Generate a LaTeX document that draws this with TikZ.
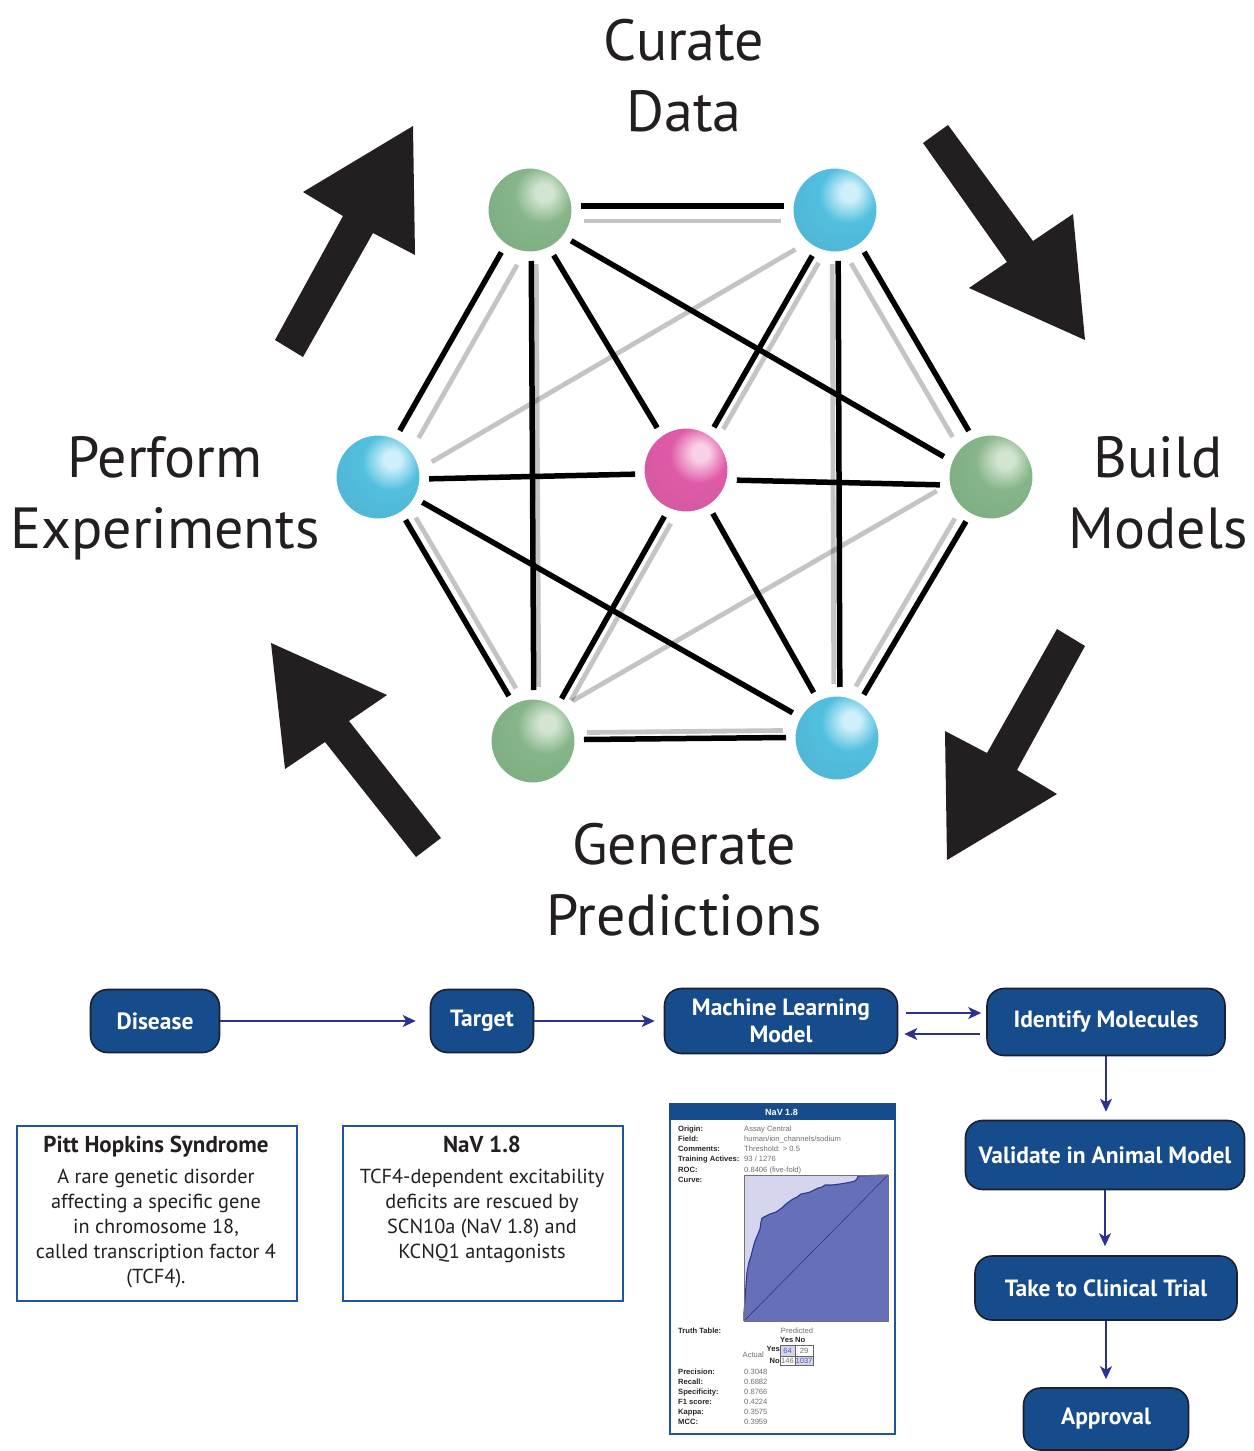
\documentclass[tikz,border=0pt]{standalone}
\usepackage{fontspec}
\setmainfont{PT Sans}
\newfontfamily\helv{Liberation Sans}
\usetikzlibrary{calc,arrows.meta}

% palette
\definecolor{inkblack}{HTML}{231F20}
\definecolor{flowblue}{HTML}{164B8C}
\definecolor{flowedge}{HTML}{1B1F2E}
\definecolor{indigo}{HTML}{2E3192}
\definecolor{boxblue}{HTML}{2155A3}
\definecolor{rocfill}{HTML}{6670B8}
\definecolor{rocbg}{HTML}{D5D6EE}
\definecolor{rocline}{HTML}{2A3896}
\definecolor{rocgray}{HTML}{6E6E6E}

\definecolor{ghi}{HTML}{D3E5D1}
\definecolor{gmid}{HTML}{86B589}
\definecolor{gdark}{HTML}{6A9470}
\definecolor{bhi}{HTML}{CFF0FA}
\definecolor{bmid}{HTML}{52BFDF}
\definecolor{bdark}{HTML}{4894B1}
\definecolor{phi}{HTML}{F9D0E6}
\definecolor{pmid}{HTML}{DF5AA7}
\definecolor{pdark}{HTML}{AD5689}

% glossy spheres, highlight up and to the right
\pgfdeclareradialshading{greenball}{\pgfpoint{9bp}{11bp}}{%
  color(0bp)=(ghi); color(5bp)=(ghi); color(17bp)=(gmid); color(34bp)=(gmid!80!gdark); color(60bp)=(gdark); color(100bp)=(gdark)}
\pgfdeclareradialshading{blueball}{\pgfpoint{9bp}{11bp}}{%
  color(0bp)=(bhi); color(5bp)=(bhi); color(17bp)=(bmid); color(34bp)=(bmid!80!bdark); color(60bp)=(bdark); color(100bp)=(bdark)}
\pgfdeclareradialshading{pinkball}{\pgfpoint{9bp}{11bp}}{%
  color(0bp)=(phi); color(5bp)=(phi); color(17bp)=(pmid); color(34bp)=(pmid!80!pdark); color(60bp)=(pdark); color(100bp)=(pdark)}

% a link between two spheres, shifted sideways by #4
\newcommand\hexlink[4][]{%
  \draw[#1] ($(#2)!#4!90:(#3)$) -- ($(#3)!#4!-90:(#2)$);}

\begin{document}
\begin{tikzpicture}[x=1pt,y=-1pt,
  sphere/.style={circle, minimum size=84pt, inner sep=0pt, draw=white, line width=1pt},
  darklink/.style={line width=5.5pt, black, shorten <=51pt, shorten >=51pt},
  palelink/.style={line width=4.8pt, black, opacity=0.23, shorten <=54pt, shorten >=54pt},
  bigarrow/.style={fill=inkblack},
  biglabel/.style={font=\fontsize{58}{71}\selectfont, align=center, anchor=base, inner sep=0pt, text=inkblack},
  flowbox/.style={rounded corners=17pt, fill=flowblue, draw=flowedge, line width=1.6pt, text=white,
    font=\bfseries\fontsize{23.5}{27}\selectfont, align=center, inner sep=0pt},
  flowarrow/.style={draw=indigo, line width=1.8pt, -{Stealth[length=13pt,width=12pt,inset=3.5pt]}},
  infobox/.style={draw=boxblue, line width=2.4pt, inner sep=0pt},
  infotitle/.style={font=\bfseries\fontsize{23}{25}\selectfont, anchor=base, inner sep=0pt, text=inkblack},
  infobody/.style={font=\fontsize{20.3}{25}\selectfont, align=center, anchor=base, inner sep=0pt, text=inkblack},
  roclabel/.style={font=\helv\bfseries\fontsize{7.6}{9}\selectfont, anchor=base west, inner sep=0pt, text=black!85},
  rocvalue/.style={font=\helv\fontsize{7.6}{9}\selectfont, anchor=base west, inner sep=0pt, text=rocgray},
]
\useasboundingbox (0,0) rectangle (1253,1451);
\fill[white] (0,0) rectangle (1253,1451);

% ---------- cycle labels (anchored on the last line's baseline) ----------
\node[biglabel] (curate) at (684,131) {Curate\\Data};
\node[biglabel] (build) at (1158,548) {Build\\Models};
\node[biglabel] (generate) at (684,935) {Generate\\Predictions};
\node[biglabel] (perform) at (165,548) {Perform\\Experiments};

% ---------- cycle arrows ----------
\fill[bigarrow] (413,126) -- (415,255) -- (373,233) -- (303,357) -- (275,340) -- (343,216) -- (303,192) -- cycle;
\fill[bigarrow] (923,143) -- (948,125) -- (1033,241) -- (1073,214) -- (1085,340) -- (969,288) -- (1007,262) -- cycle;
\fill[bigarrow] (947,860) -- (945,731) -- (987,753) -- (1057,629) -- (1085,646) -- (1017,770) -- (1057,794) -- cycle;
\fill[bigarrow] (441,838) -- (416,857) -- (325,742) -- (285,769) -- (271,643) -- (387,695) -- (349,721) -- cycle;

% ---------- spheres ----------
\node[sphere, shading=greenball] (TL) at (530,210) {};
\node[sphere, shading=blueball]  (TR) at (835,210) {};
\node[sphere, shading=blueball]  (L)  at (378,477) {};
\node[sphere, shading=pinkball]  (C)  at (686,470) {};
\node[sphere, shading=greenball] (R)  at (991,477) {};
\node[sphere, shading=greenball] (BL) at (533,741) {};
\node[sphere, shading=blueball]  (BR) at (837,738) {};

% black links
\hexlink[darklink]{TL}{TR}{4pt}
\hexlink[darklink]{TL}{L}{-4pt}
\hexlink[darklink]{TL}{BL}{1pt}
\hexlink[darklink]{TL}{C}{-3pt}
\hexlink[darklink]{TL}{R}{-6pt}
\hexlink[darklink]{L}{C}{-3pt}
\hexlink[darklink]{TR}{C}{3pt}
\hexlink[darklink]{TR}{BR}{3pt}
\hexlink[darklink]{TR}{R}{4pt}
\hexlink[darklink]{C}{R}{-9pt}
\hexlink[darklink]{L}{BR}{0pt}
\hexlink[darklink]{L}{BL}{2pt}
\hexlink[darklink]{BL}{C}{-4pt}
\hexlink[darklink]{C}{BR}{2pt}
\hexlink[darklink]{R}{BR}{1pt}
\hexlink[darklink]{BL}{BR}{1pt}
% pale links
\hexlink[palelink]{TL}{TR}{-11pt}
\hexlink[palelink]{TL}{L}{16pt}
\hexlink[palelink]{TL}{BL}{6pt}
\hexlink[palelink]{L}{TR}{-14pt}
\hexlink[palelink]{TR}{C}{12pt}
\hexlink[palelink]{TR}{BR}{-3pt}
\hexlink[palelink]{TR}{R}{-13pt}
\hexlink[palelink]{L}{BL}{12pt}
\hexlink[palelink]{BL}{C}{-13pt}
\hexlink[palelink]{BL}{R}{15pt}
\hexlink[palelink]{R}{BR}{-10pt}
\hexlink[palelink]{BL}{BR}{8pt}

% ---------- pipeline ----------
\node[flowbox, minimum width=129pt, minimum height=63pt] (dis) at (155,1021) {Disease};
\node[flowbox, minimum width=103pt, minimum height=63pt] (tgt) at (482,1021) {Target};
\node[flowbox, minimum width=233pt, minimum height=65pt] (ml) at (781,1021) {Machine Learning\\Model};
\node[flowbox, minimum width=238pt, minimum height=67pt] (idm) at (1106,1022) {Identify Molecules};
\node[flowbox, minimum width=279pt, minimum height=69pt] (val) at (1105,1155) {Validate in Animal Model};
\node[flowbox, minimum width=262pt, minimum height=64pt] (clin) at (1106,1288) {Take to Clinical Trial};
\node[flowbox, minimum width=165pt, minimum height=62pt] (appr) at (1106,1419) {Approval};

\draw[flowarrow, shorten >=14pt] (dis.east) -- (tgt.west);
\draw[flowarrow, shorten >=9pt] (tgt.east) -- (ml.west);
\draw[flowarrow, shorten <=8pt, shorten >=5pt] ([yshift=8pt]ml.east) -- ([yshift=8pt]ml.east -| idm.west);
\draw[flowarrow, shorten <=6pt, shorten >=6pt] ([yshift=-12pt]idm.west) -- ([yshift=-12pt]idm.west -| ml.east);
\draw[flowarrow, shorten >=8pt] (idm.south) -- (idm.south |- val.north);
\draw[flowarrow, shorten >=9pt] (val.south) -- (val.south |- clin.north);
\draw[flowarrow, shorten >=8pt] (clin.south) -- (clin.south |- appr.north);

% ---------- info boxes ----------
\node[infobox, minimum width=280pt, minimum height=175pt, anchor=north west] (pitt) at (16,1125) {};
\node[infotitle] (pitttitle) at (156,1152) {Pitt Hopkins Syndrome};
\node[infobody] (pittbody) at (156,1283) {A rare genetic disorder\\affecting a specific gene\\in chromosome 18,\\called transcription factor 4\\(TCF4).};

\node[infobox, minimum width=280pt, minimum height=175pt, anchor=north west] (nav) at (342,1125) {};
\node[infotitle] (navtitle) at (482,1152) {NaV 1.8};
\node[infobody] (navbody) at (482,1258) {TCF4-dependent excitability\\deficits are rescued by\\SCN10a (NaV 1.8) and\\KCNQ1 antagonists};

% ---------- model report card ----------
\node[draw=boxblue, line width=2pt, minimum width=225pt, minimum height=330pt, inner sep=0pt, anchor=north west] (card) at (669,1103) {};
\fill[flowblue] (card.north west) rectangle ($(card.north east)+(0,17)$);
\node[font=\helv\bfseries\fontsize{9}{10}\selectfont, text=white, inner sep=0pt] (cardtitle) at (781.5,1112) {NaV 1.8};

\node[roclabel] (l1) at (678,1131) {Origin:};
\node[roclabel] (l2) at (678,1141) {Field:};
\node[roclabel] (l3) at (678,1151) {Comments:};
\node[roclabel] (l4) at (678,1161.5) {Training Actives:};
\node[roclabel] (l5) at (678,1172) {ROC:};
\node[roclabel] (l6) at (678,1182) {Curve:};
\node[rocvalue] (v1) at (744,1131) {Assay Central};
\node[rocvalue] (v2) at (744,1141) {human/ion\_channels/sodium};
\node[rocvalue] (v3) at (744,1151) {Threshold: > 0.5};
\node[rocvalue] (v4) at (744,1161.5) {93 / 1276};
\node[rocvalue] (v5) at (744,1172) {0.8406 (five-fold)};

% ROC curve
\fill[rocbg] (744,1175) rectangle (888,1321);
\fill[rocfill] (744,1321) -- (744,1312) -- (745,1300) -- (746,1285) -- (747,1272) -- (749,1262) -- (751,1256)
  -- (753,1248) -- (755,1241) -- (758,1234) -- (760,1229) -- (761,1222) -- (762,1218) -- (766,1216)
  -- (770,1214) -- (776,1212) -- (779,1210) -- (783,1207) -- (786,1204) -- (790,1201) -- (793,1199)
  -- (797,1197) -- (801,1194) -- (806,1193) -- (810,1192) -- (814,1190) -- (818,1188) -- (822,1187)
  -- (825,1185) -- (832,1185) -- (840,1184) -- (846,1183) -- (851,1182) -- (855,1181) -- (857,1179)
  -- (858,1176) -- (870,1175.5) -- (888,1175) -- (888,1321) -- cycle;
\draw[rocline, line width=1.1pt, line join=round] (744,1321) -- (744,1312) -- (745,1300) -- (746,1285) -- (747,1272) -- (749,1262) -- (751,1256)
  -- (753,1248) -- (755,1241) -- (758,1234) -- (760,1229) -- (761,1222) -- (762,1218) -- (766,1216)
  -- (770,1214) -- (776,1212) -- (779,1210) -- (783,1207) -- (786,1204) -- (790,1201) -- (793,1199)
  -- (797,1197) -- (801,1194) -- (806,1193) -- (810,1192) -- (814,1190) -- (818,1188) -- (822,1187)
  -- (825,1185) -- (832,1185) -- (840,1184) -- (846,1183) -- (851,1182) -- (855,1181) -- (857,1179)
  -- (858,1176) -- (870,1175.5) -- (888,1175);
\draw[rocline, line width=0.6pt] (744,1321) -- (888,1175);
\draw[black!55, line width=0.7pt] (744,1175) rectangle (888,1321);

% truth table
\node[roclabel] (tt) at (678,1333) {Truth Table:};
\node[rocvalue, anchor=base] (pred) at (797,1333) {Predicted};
\node[roclabel] (hy) at (780,1342) {Yes};
\node[roclabel] (hn) at (795,1342) {No};
\fill[rocbg] (780,1345) rectangle (795,1356);
\fill[rocbg] (795,1356) rectangle (813,1365);
\draw[black!60, line width=0.6pt] (780,1345) rectangle (813,1365) (795,1345) -- (795,1365) (780,1356) -- (813,1356);
\node[rocvalue, anchor=base east] (act) at (764,1357) {Actual};
\node[roclabel, anchor=base east] (ry) at (780,1351) {Yes};
\node[roclabel, anchor=base east] (rn) at (780,1363) {No};
\node[rocvalue, anchor=base, text=rocline!80] (c11) at (787.5,1353.5) {64};
\node[rocvalue, anchor=base] (c12) at (804,1353.5) {29};
\node[rocvalue, anchor=base] (c21) at (787.5,1363) {146};
\node[rocvalue, anchor=base, text=rocline!80] (c22) at (804,1363) {1037};

\node[roclabel] (m1) at (678,1374) {Precision:};
\node[roclabel] (m2) at (678,1384) {Recall:};
\node[roclabel] (m3) at (678,1394) {Specificity:};
\node[roclabel] (m4) at (678,1404) {F1 score:};
\node[roclabel] (m5) at (678,1414) {Kappa:};
\node[roclabel] (m6) at (678,1424) {MCC:};
\node[rocvalue] (n1) at (744,1374) {0.3048};
\node[rocvalue] (n2) at (744,1384) {0.6882};
\node[rocvalue] (n3) at (744,1394) {0.8766};
\node[rocvalue] (n4) at (744,1404) {0.4224};
\node[rocvalue] (n5) at (744,1414) {0.3575};
\node[rocvalue] (n6) at (744,1424) {0.3959};
\end{tikzpicture}
\end{document}
